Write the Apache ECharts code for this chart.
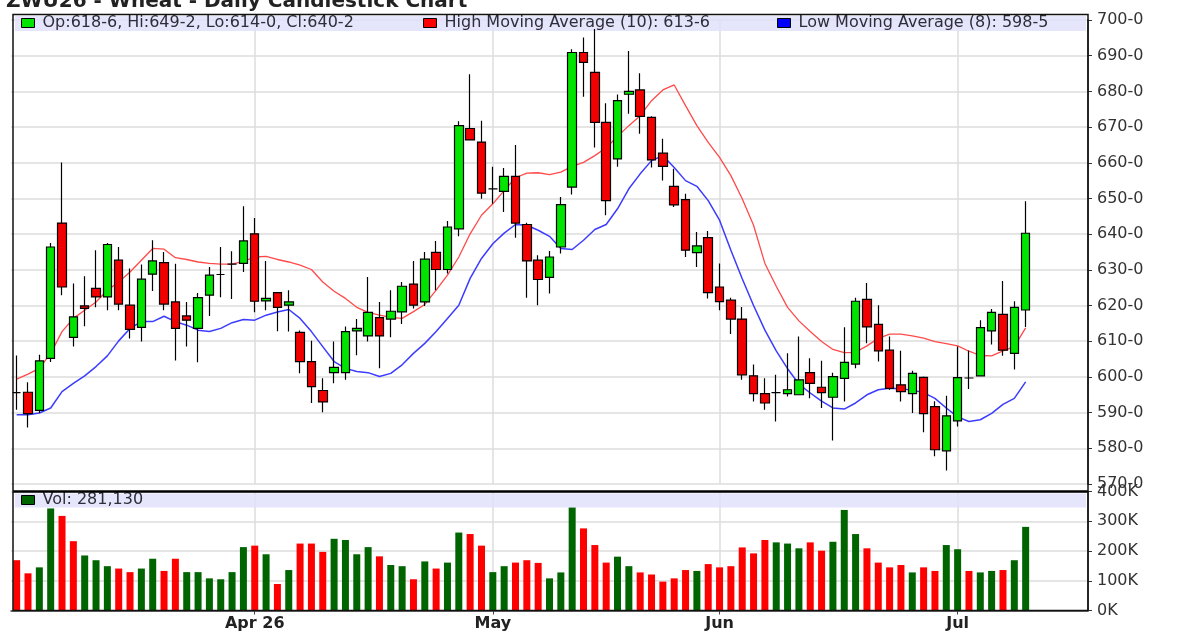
<!DOCTYPE html>
<html>
<head>
<meta charset="utf-8">
<title>ZWU26 - Wheat - Daily Candlestick Chart</title>
<script src="https://cdn.jsdelivr.net/npm/echarts@6/dist/echarts.min.js"></script>
<style>
html, body { margin: 0; padding: 0; background: #fff; }
#chart { width: 1180px; height: 634px; }
</style>
</head>
<body>
<div id="chart"></div>
<script>
// trading days, Mar 3 .. Jul 10 2026
var dates = ['3/3','3/4','3/5','3/6','3/9','3/10','3/11','3/12','3/13','3/16','3/17','3/18','3/19','3/20','3/23','3/24','3/25','3/26','3/27','3/30','3/31',
    '4/1','4/2','4/6','4/7','4/8','4/9','4/10','4/13','4/14','4/15','4/16','4/17','4/20','4/21','4/22','4/23','4/24','4/27','4/28','4/29','4/30',
    '5/1','5/4','5/5','5/6','5/7','5/8','5/11','5/12','5/13','5/14','5/15','5/18','5/19','5/20','5/21','5/22','5/26','5/27','5/28','5/29',
    '6/1','6/2','6/3','6/4','6/5','6/8','6/9','6/10','6/11','6/12','6/15','6/16','6/17','6/18','6/22','6/23','6/24','6/25','6/26','6/29','6/30',
    '7/1','7/2','7/6','7/7','7/8','7/9','7/10'];
// empty days kept at the right edge of the chart
var padDates = ['7/13','7/14','7/15','7/16','7/17'];
var monthTicks = ['4/1','5/1','6/1','7/1'];
var monthLabels = ['Apr 26','May','Jun','Jul'];

var opens = [595.6,595.7,590.6,605.2,643.1,611.1,619.9,624.8,622.4,632.7,620.1,613.9,628.8,632,621,617.1,613.6,622.9,628.7,631.6,631.8,
    640.1,621.3,623.6,620.1,612.5,604.3,596.2,601.2,601.2,612.9,611.5,616.6,616.2,618.2,626,621,634.9,630.1,641.5,669.6,665.8,
    652.7,652,656.2,642.7,632.7,627.9,636.4,653.2,690.9,685.3,671.3,661.1,679.2,680.4,672.7,662.7,653.4,649.7,
    634.8,639,625.2,621.5,616.2,600.3,595.3,595.6,595.3,595,601.2,597.1,594.3,599.6,603.6,621.7,614.7,607.5,597.8,595.3,599.9,591.7,579.3,
    587.7,599.7,600.3,612.9,617.5,606.6,618.75];
var highs = [606,598.5,606.2,637.5,660.1,626.2,628.2,635.5,637.5,636.4,630.4,631.5,638.3,635,631.7,621,623.5,630.8,636.4,635.2,647.8,
    644.5,632.5,623.8,624.3,613,610.1,599.6,609.9,614.1,616.2,628,621,624.3,626.6,632.5,635,638.1,643.7,671.6,684.8,671.8,
    658.9,658.5,665,643.2,634.1,635.3,650.4,691.8,695.1,697.5,676.7,679.1,691.3,685.1,673,666.7,658.3,651.3,
    640.6,640.9,631.8,622.2,619.6,603.5,599.6,600.6,606.6,611.3,605.2,604.5,601.2,613.9,622.2,626.3,620.1,611.3,607.3,601.7,600.1,593.2,594.7,
    608.5,607.4,615.9,619,626.9,621.2,649.25];
var lows = [590.8,585.8,589.9,604.2,622.9,608.5,614.2,619.5,618.7,618.7,610.8,609.9,624.1,618.7,604.6,608.5,604.1,617.1,622.3,621.8,629.4,
    618.1,618.7,612.8,612.7,601,592.7,590.1,598.2,599.2,606.1,609.9,602.4,611.1,614.8,619.2,619.9,624.3,629,639.4,666.3,649.9,
    648.5,646.2,639,622.2,620.1,623.4,634.6,651.1,678.5,664.3,645.3,658.9,673.7,668.1,658.7,655,647.6,633.6,
    630.8,622,618.7,612,599.2,593.1,590.8,587.5,594.5,595,594,591.3,582.2,593.1,602.4,609.4,604.3,596.4,593.1,589.9,584.5,577.8,573.8,
    586.1,596.6,600.3,609.1,605.9,602.1,614];
var closes = [595.6,589.7,604.5,636.4,625.2,616.8,619.2,622.4,637.1,620.4,613.3,627.4,632.5,620.4,613.6,615.9,622.2,628.5,628.7,631.6,638.1,
    621.2,622,619.5,621,604.3,597.3,593,602.7,612.7,613.6,618.1,611.5,618.4,625.4,620.1,633,630.1,642,670.4,666.4,651.5,
    652.7,656.2,643.1,632.5,627.3,633.6,648.3,690.9,688.1,671.3,649.4,677.4,680,673,660.8,659,648.2,635.5,
    636.7,623.6,621.1,616.2,600.6,595.3,592.7,595.6,596.4,599.2,598.2,595.6,600.1,604.1,621.2,614,607.3,596.8,595.9,601,589.7,579.6,589.1,
    599.8,599.7,613.8,618.1,607.5,619.5,640.25];
var volumes = [169000,125000,145000,343000,318000,233000,185000,169000,149000,141000,129000,141000,174000,133000,174000,129000,129000,108000,105000,129000,213000,
    218000,189000,89000,136000,225000,225000,197000,241000,237000,189000,213000,182000,153000,149000,105000,165000,141000,161000,262000,257000,218000,
    129000,149000,161000,169000,160000,108000,128000,346000,276000,220000,161000,181000,149000,128000,121000,97000,108000,136000,
    133000,156000,145000,149000,212000,192000,237000,229000,225000,209000,229000,201000,231000,338000,257000,209000,161000,145000,153000,128000,145000,133000,220000,
    206000,133000,128000,133000,136000,169000,281130];
// High Moving Average (10)
var highMA = [599.4,600.8,602.4,606.6,612.7,616.4,618.7,621,624.3,626.6,629.4,632.7,636,635.8,633.4,632.9,632.2,631.8,631.6,631.6,632.4,
    633.6,633.8,632.9,632.2,631.3,630.1,626.6,624,622,619.5,618.1,617.3,616.7,616.4,618.3,620.3,624.3,628.5,633.6,640.1,645.3,
    648.5,652.2,655.8,657.1,657.2,656.7,657.4,659,660.1,662,664.2,667.4,670.4,673.2,677.4,680.4,681.8,676,
    670.4,665.7,661.5,656.4,649.9,642.5,631.8,625.4,619.5,615.7,612.7,609.9,607.7,606.8,606.9,608.7,610.8,612,612,611.5,610.9,609.9,609.3,
    608.7,607.2,606,605.9,607.3,608.5,613.75];
// Low Moving Average (8)
var lowMA = [589.4,589.4,589.9,591.3,595.9,598.2,600.3,602.9,605.9,610.1,613.6,615.5,615.5,617,615.5,614.5,613.1,612.7,613.6,615.2,616.1,
    615.9,617.3,618.2,618.9,616.4,612.7,608.5,604.3,602.4,601.5,601.2,600.1,601,603.4,606.6,609.4,612.7,616.4,620.1,627.6,633.2,
    637.3,640.3,642.7,642.5,641.1,639.4,636,635.7,638.3,641.3,642.7,647.1,652.7,656.9,660.6,662,658.7,655,
    653.4,649.4,643.9,635.5,627.5,620,613.1,607.3,602.3,598,595.5,593.2,591.3,591,592.7,595,596.4,596.8,596.7,596.3,595.6,594,591.3,
    588.8,587.5,588,589.8,592.3,594,598.625];

// wheat quotes in eighths: 640.25 -> 640-2
function fmt(v) {
    var whole = Math.floor(v);
    return whole + '-' + Math.round((v - whole) * 8);
}

var font = 'DejaVu Sans';
var last = dates.length - 1;
var candleName = 'Op:' + fmt(opens[last]) + ', Hi:' + fmt(highs[last]) + ', Lo:' + fmt(lows[last]) + ', Cl:' + fmt(closes[last]);
var highName = 'High Moving Average (10): ' + fmt(highMA[last]);
var lowName = 'Low Moving Average (8): ' + fmt(lowMA[last]);
var volName = 'Vol: ' + volumes[last].toLocaleString('en-US');

var candles = [];
var volData = [];
for (var i = 0; i < dates.length; i++) {
    candles.push([opens[i], closes[i], lows[i], highs[i]]);
    var prev = i > 0 ? closes[i - 1] : opens[0];
    volData.push({value: volumes[i], itemStyle: {color: closes[i] > prev ? '#006400' : '#ff0000'}});
}

function isMonthStart(index, value) {
    return monthTicks.indexOf(value) >= 0;
}

function legendAt(left, top, name, color) {
    return {
        left: left,
        top: top,
        padding: 0,
        selectedMode: false,
        itemWidth: 13,
        itemHeight: 9,
        data: [{name: name, icon: 'rect', itemStyle: {color: color, borderColor: '#000', borderWidth: 1}}],
        textStyle: {fontFamily: font, fontSize: 16, color: '#2e2e3a', padding: [0, 0, 0, 3]}
    };
}

var gridLine = {color: '#dcdcdc', width: 1.5};
var axisText = {fontFamily: font, fontSize: 16, color: '#333'};

var myChart = echarts.init(document.getElementById('chart'));

var option = {
    animation: false,
    backgroundColor: '#fff',
    title: {
        text: 'ZWU26 - Wheat - Daily Candlestick Chart',
        left: 6,
        top: -8,
        padding: 0,
        textStyle: {fontFamily: font, fontSize: 20, fontWeight: 'bold', color: '#222'}
    },
    legend: [
        legendAt(21, 15, candleName, '#00e400'),
        legendAt(423, 15, highName, '#ff0000'),
        legendAt(777, 15, lowName, '#0000ff'),
        legendAt(21, 492, volName, '#006400')
    ],
    graphic: [
        {type: 'rect', z: 1, silent: true, shape: {x: 15, y: 16, width: 1071, height: 15}, style: {fill: 'rgba(224,224,250,0.85)'}},
        {type: 'rect', z: 1, silent: true, shape: {x: 15, y: 493.5, width: 1071, height: 14}, style: {fill: 'rgba(224,224,250,0.85)'}},
        {type: 'line', z: 100, silent: true, shape: {x1: 13, y1: 491.5, x2: 1088, y2: 491.5}, style: {stroke: '#000', lineWidth: 2.5}},
        {type: 'rect', z: 100, silent: true, shape: {x: 13, y: 14.5, width: 1075, height: 596}, style: {fill: 'none', stroke: '#111', lineWidth: 1.5}}
    ],
    grid: [
        {left: 11, right: 92, top: 20, height: 464, outerBoundsMode: 'none'},
        {left: 11, right: 92, top: 491.5, height: 119, outerBoundsMode: 'none'}
    ],
    xAxis: [
        {
            type: 'category',
            gridIndex: 0,
            data: dates.concat(padDates),
            boundaryGap: true,
            axisLine: {show: false},
            axisTick: {show: false},
            axisLabel: {show: false},
            splitLine: {show: true, interval: isMonthStart, alignWithLabel: true, lineStyle: gridLine}
        },
        {
            type: 'category',
            gridIndex: 1,
            data: dates.concat(padDates),
            boundaryGap: true,
            axisLine: {show: true, lineStyle: {color: '#444', width: 1.5}},
            axisTick: {show: true, interval: isMonthStart, alignWithLabel: true, length: 4, lineStyle: {color: '#444'}},
            axisLabel: {
                interval: isMonthStart,
                margin: 5,
                fontFamily: font,
                fontSize: 16,
                fontWeight: 'bold',
                color: '#222',
                formatter: function (value) {
                    return monthLabels[monthTicks.indexOf(value)];
                }
            },
            splitLine: {show: true, interval: isMonthStart, alignWithLabel: true, lineStyle: gridLine}
        }
    ],
    yAxis: [
        {
            type: 'value',
            gridIndex: 0,
            position: 'right',
            min: 570,
            max: 700,
            interval: 10,
            axisLine: {show: true, lineStyle: {color: '#333', width: 1.5}},
            axisTick: {show: true, length: 4, lineStyle: {color: '#333'}},
            axisLabel: Object.assign({margin: 9, formatter: function (v) { return v + '-0'; }}, axisText),
            splitLine: {show: true, lineStyle: gridLine}
        },
        {
            type: 'value',
            gridIndex: 1,
            position: 'right',
            min: 0,
            max: 400000,
            interval: 100000,
            axisLine: {show: true, lineStyle: {color: '#333', width: 1.5}},
            axisTick: {show: true, length: 4, lineStyle: {color: '#333'}},
            axisLabel: Object.assign({margin: 9, formatter: function (v) { return (v / 1000) + 'K'; }}, axisText),
            splitLine: {show: true, lineStyle: gridLine}
        }
    ],
    series: [
        {
            name: highName,
            type: 'line',
            xAxisIndex: 0,
            yAxisIndex: 0,
            data: highMA,
            symbol: 'none',
            z: 2,
            itemStyle: {color: '#ff0000'},
            lineStyle: {color: '#ff4a4a', width: 1.3}
        },
        {
            name: lowName,
            type: 'line',
            xAxisIndex: 0,
            yAxisIndex: 0,
            data: lowMA,
            symbol: 'none',
            z: 2,
            itemStyle: {color: '#0000ff'},
            lineStyle: {color: '#3c3cff', width: 1.5}
        },
        {
            name: candleName,
            type: 'candlestick',
            xAxisIndex: 0,
            yAxisIndex: 0,
            data: candles,
            barWidth: 9,
            z: 3,
            itemStyle: {
                color: '#00e400',
                color0: '#f20000',
                borderColor: '#000',
                borderColor0: '#000',
                borderColorDoji: '#000',
                borderWidth: 1.2
            },
            markLine: {
                symbol: 'none',
                silent: true,
                animation: false,
                lineStyle: {opacity: 0},
                label: {
                    position: 'end',
                    distance: 8,
                    formatter: fmt(closes[last]),
                    backgroundColor: '#000',
                    color: '#fff',
                    fontFamily: font,
                    fontSize: 16,
                    padding: [1, 2, 0, 2]
                },
                data: [{yAxis: closes[last]}]
            }
        },
        {
            name: volName,
            type: 'bar',
            xAxisIndex: 1,
            yAxisIndex: 1,
            data: volData,
            barWidth: 7,
            itemStyle: {color: '#006400'}
        }
    ]
};

myChart.setOption(option);
</script>
</body>
</html>
